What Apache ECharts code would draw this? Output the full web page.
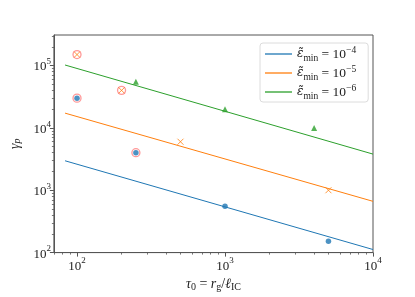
<!DOCTYPE html>
<html><head><meta charset="utf-8">
<script src="https://cdn.jsdelivr.net/npm/echarts@6/dist/echarts.min.js"></script>
<style>html,body{margin:0;padding:0;background:#fff}#c{width:415px;height:297px}</style>
</head><body><div id="c"></div>
<script>
// ---- data ----
const seriesNames = ['min4', 'min5', 'min6'];
const legendExp = ['−4', '−5', '−6'];
const fitBlue = [[83, 2970], [10000, 112]];
const fitOrange = [[83, 17250], [10000, 664]];
const fitGreen = [[83, 102000], [10000, 3800]];
const dotsBlue = [[1000, 555], [5000, 152], [100, 30000], [250, 4000]];
const crossOrange = [[500, 6000], [5000, 1000], [100, 150000], [200, 40000]];
const triGreen = [[250, 55000], [1000, 20000], [4000, 10000]];
const circledRed = [[100, 150000], [200, 40000], [100, 30000], [250, 4000]];
const xMajor = [100, 1000, 10000];
const xMinor = [70, 80, 90, 200, 300, 400, 500, 600, 700, 800, 900, 2000, 3000, 4000, 5000, 6000, 7000, 8000, 9000];
const yMajor = [100, 1000, 10000, 100000];
const yMinor = [200, 300, 400, 500, 600, 700, 800, 900, 2000, 3000, 4000, 5000, 6000, 7000, 8000, 9000,
  20000, 30000, 40000, 50000, 60000, 70000, 80000, 90000, 200000, 300000];
const xMin = 69.8, xMax = 10000, yMin = 100, yMax = 309000;

const SERIF = 'Liberation Serif';
const C = ['#1f77b4', '#ff7f0e', '#2ca02c'];
const AX = '#555';
const TXT = '#222';

function powLabel(v) {
  const e = Math.round(Math.log10(v));
  return '{b|10}{s|' + e + '}';
}
const powRich = {
  b: { fontFamily: SERIF, fontSize: 13, color: TXT, lineHeight: 16, verticalAlign: 'bottom' },
  s: { fontFamily: SERIF, fontSize: 9, color: TXT, lineHeight: 16, verticalAlign: 'top', padding: [0, 0, 6, 0] }
};

const chart = echarts.init(document.getElementById('c'), null, { renderer: 'canvas' });
const legendNames = seriesNames.map((n, i) => 'leg' + i);

const option = {
  animation: false,
  backgroundColor: '#fff',
  grid: { left: 52, right: 42, top: 35, bottom: 37, show: true, borderColor: AX, borderWidth: 1, backgroundColor: 'transparent' },
  legend: {
    data: legendNames,
    orient: 'vertical',
    left: 260, top: 43,
    padding: [2, 12, 1, 5],
    itemGap: 1,
    itemWidth: 27, itemHeight: 1.3,
    icon: 'rect',
    backgroundColor: 'rgba(255,255,255,0.85)',
    borderColor: '#dcdcdc', borderWidth: 1, borderRadius: 3,
    formatter: function (name) {
      const i = legendNames.indexOf(name);
      return '{e|ε̃}{sub|min}{t| = 10}{sup|' + legendExp[i] + '}';
    },
    textStyle: {
      fontFamily: SERIF, fontSize: 13, color: TXT, lineHeight: 18,
      rich: {
        e: { fontFamily: 'DejaVu Serif', fontSize: 12, fontStyle: 'italic', color: TXT, lineHeight: 18, verticalAlign: 'middle' },
        sub: { fontFamily: SERIF, fontSize: 9.5, color: TXT, lineHeight: 9, verticalAlign: 'bottom' },
        t: { fontFamily: SERIF, fontSize: 13.5, color: TXT, lineHeight: 18, verticalAlign: 'middle' },
        sup: { fontFamily: SERIF, fontSize: 9.5, color: TXT, lineHeight: 9, verticalAlign: 'top' }
      }
    }
  },
  xAxis: [{
    type: 'log', logBase: 10, min: xMin, max: xMax,
    name: '{i|τ}{sub|0}{r| = }{i|r}{sub|g}{r|/}{i|ℓ}{sub|IC}',
    nameLocation: 'middle', nameGap: 17,
    nameTextStyle: {
      rich: {
        i: { fontFamily: SERIF, fontSize: 14, fontStyle: 'italic', color: TXT },
        r: { fontFamily: SERIF, fontSize: 14, color: TXT },
        sub: { fontFamily: SERIF, fontSize: 10, color: TXT, padding: [5, 0, 0, 0] }
      }
    },
    axisLine: { show: true, lineStyle: { color: AX, width: 1 } },
    axisTick: { show: true, inside: false, length: 4, lineStyle: { color: AX, width: 1 }, customValues: xMajor },
    axisLabel: { show: true, margin: 4, formatter: powLabel, rich: powRich, customValues: xMajor },
    splitLine: { show: false }, minorTick: { show: false }
  }, {
    type: 'log', logBase: 10, min: xMin, max: xMax, position: 'bottom',
    axisLine: { show: false },
    axisTick: { show: true, inside: false, length: 2, lineStyle: { color: AX, width: 0.8 }, customValues: xMinor },
    axisLabel: { show: false }, splitLine: { show: false }
  }],
  yAxis: [{
    type: 'log', logBase: 10, min: yMin, max: yMax,
    name: '{i|γ}{sub|p}', nameLocation: 'middle', nameGap: 23, nameRotate: 90,
    nameTextStyle: {
      rich: {
        i: { fontFamily: SERIF, fontSize: 14, fontStyle: 'italic', color: TXT },
        sub: { fontFamily: SERIF, fontSize: 10, fontStyle: 'italic', color: TXT, padding: [5, 0, 0, 0] }
      }
    },
    axisLine: { show: true, lineStyle: { color: AX, width: 1 } },
    axisTick: { show: true, inside: false, length: 4, lineStyle: { color: AX, width: 1 }, customValues: yMajor },
    axisLabel: { show: true, margin: 3, formatter: powLabel, rich: powRich, customValues: yMajor },
    splitLine: { show: false }
  }, {
    type: 'log', logBase: 10, min: yMin, max: yMax, position: 'left',
    axisLine: { show: false },
    axisTick: { show: true, inside: false, length: 2, lineStyle: { color: AX, width: 0.8 }, customValues: yMinor },
    axisLabel: { show: false }, splitLine: { show: false }
  }],
  series: [
    { name: legendNames[0], type: 'line', data: fitBlue, showSymbol: false, symbol: 'none', lineStyle: { color: C[0], width: 1 }, itemStyle: { color: C[0] }, z: 2 },
    { name: legendNames[1], type: 'line', data: fitOrange, showSymbol: false, symbol: 'none', lineStyle: { color: C[1], width: 1 }, itemStyle: { color: C[1] }, z: 2 },
    { name: legendNames[2], type: 'line', data: fitGreen, showSymbol: false, symbol: 'none', lineStyle: { color: C[2], width: 1 }, itemStyle: { color: C[2] }, z: 2 },
    { type: 'scatter', data: dotsBlue, symbol: 'circle', symbolSize: 5.5, itemStyle: { color: C[0] }, z: 3 },
    { type: 'scatter', data: crossOrange, symbol: 'path://M0,0L10,10M10,0L0,10', symbolSize: 6, itemStyle: { color: 'none', borderColor: C[1], borderWidth: 1 }, z: 3 },
    { type: 'scatter', data: triGreen, symbol: 'triangle', symbolSize: 6, itemStyle: { color: C[2] }, z: 3 },
    { type: 'scatter', data: circledRed, symbol: 'circle', symbolSize: 8, itemStyle: { color: 'none', borderColor: 'rgba(255,40,40,0.6)', borderWidth: 1.3 }, z: 4 }
  ]
};
chart.setOption(option);
</script>
</body></html>
